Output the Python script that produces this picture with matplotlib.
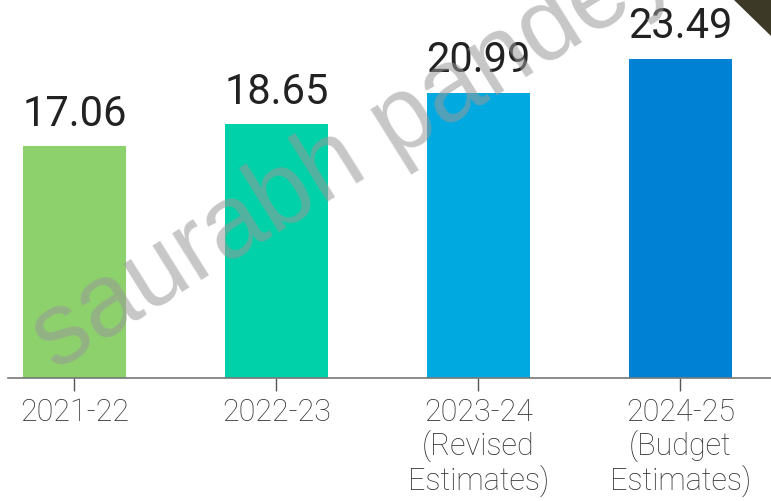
import matplotlib.pyplot as plt
from matplotlib.patches import Polygon

years = ["2021-22", "2022-23", "2023-24\n(Revised\nEstimates)", "2024-25\n(Budget\nEstimates)"]
values = [17.06, 18.65, 20.99, 23.49]
colors = ["#8dd16d", "#00d1a8", "#00a9e0", "#0081d3"]


def main():
    plt.rcParams['font.family'] = ['Roboto', 'DejaVu Sans']
    fig = plt.figure(figsize=(7.71, 5.02), dpi=100)
    ax = fig.add_axes([8 / 771, 123 / 502, 763 / 771, 379 / 502])

    x = list(range(len(values)))
    ax.bar(x, values, width=0.51, color=colors, zorder=2)
    for xi, v in zip(x, values):
        ax.annotate("%.2f" % v, (xi, v), xytext=(0, 9), textcoords="offset points",
                    ha="center", va="bottom", fontsize=30, color="#222222")

    ax.set_xlim(-0.329, 3.448)
    ax.set_ylim(0, 27.87)
    ax.set_xticks(x)
    ax.set_xticklabels(years, fontsize=22, color="#333333", fontweight="light",
                       linespacing=1.1)
    ax.tick_params(axis="x", length=9, width=1, color="#555555", pad=5)
    ax.set_yticks([])
    for s in ["top", "right", "left"]:
        ax.spines[s].set_visible(False)
    ax.spines["bottom"].set_color("#777777")
    ax.spines["bottom"].set_linewidth(1.2)

    # watermark
    fig.text(0.072, 0.26, "saurabh pandey", fontsize=74, color="#999999", alpha=0.55,
             rotation=32, rotation_mode="anchor", ha="left", va="baseline",
             family=["Liberation Sans"], zorder=5)

    # dark corner in the top right
    fig.patches.append(Polygon([[733 / 771, 1], [1, 1], [1, 1 - 37 / 502]], closed=True,
                               transform=fig.transFigure, facecolor="#3c3a26", zorder=6))

    fig.savefig("out.png", dpi=100)


if __name__ == "__main__":
    main()
